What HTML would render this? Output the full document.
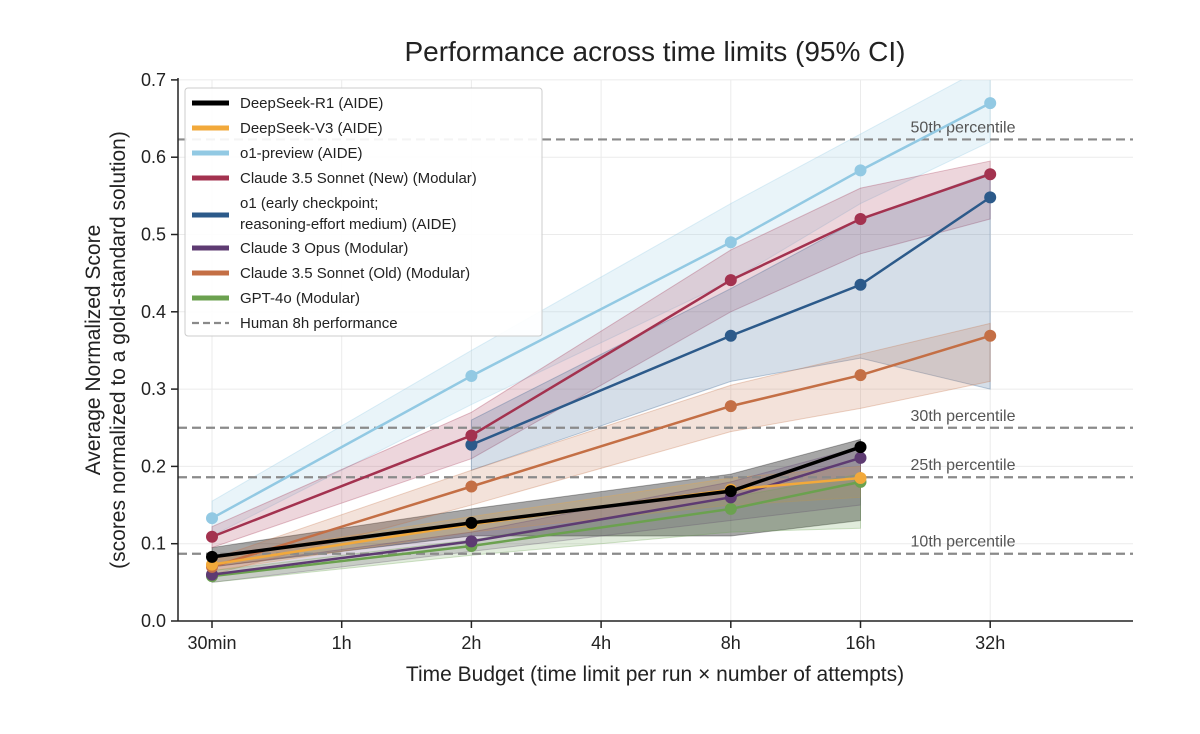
<!DOCTYPE html>
<html><head><meta charset="utf-8"><style>
body{margin:0;background:#fff;font-family:"Liberation Sans",sans-serif}
svg text{font-family:"Liberation Sans",sans-serif}
</style></head><body>
<svg id="chart" width="1200" height="729">
<text x="655" y="61" text-anchor="middle" font-size="28" fill="#222">Performance across time limits (95% CI)</text>
<g id="grid"></g><g id="bands"></g><g id="hlines"></g><g id="lines"></g><g id="axes"></g>
<text x="655" y="681" text-anchor="middle" font-size="21" fill="#222">Time Budget (time limit per run × number of attempts)</text>
<g transform="translate(100,350) rotate(-90)">
<text x="0" y="0" text-anchor="middle" font-size="21" fill="#222">Average Normalized Score</text>
<text x="0" y="25" text-anchor="middle" font-size="21" fill="#222">(scores normalized to a gold-standard solution)</text>
</g>
<g id="legend"></g>
</svg>
<script>
const xLabels=["30min","1h","2h","4h","8h","16h","32h"];
const yTicks=[0,0.1,0.2,0.3,0.4,0.5,0.6,0.7];
const humanLevels=[0.623,0.25,0.186,0.087];
const humanLabels=["50th percentile","30th percentile","25th percentile","10th percentile"];
const names=["DeepSeek-R1 (AIDE)","DeepSeek-V3 (AIDE)","o1-preview (AIDE)","Claude 3.5 Sonnet (New) (Modular)","o1 (early checkpoint;|reasoning-effort medium) (AIDE)","Claude 3 Opus (Modular)","Claude 3.5 Sonnet (Old) (Modular)","GPT-4o (Modular)"];
const colors=["#000000","#f2a93b","#92c9e3","#a3324f","#2c5a8a","#5e3b72","#c46f45","#6ba14f"];
const xIdx=[[0,2,4,5],[0,2,4,5],[0,2,4,5,6],[0,2,4,5,6],[2,4,5,6],[0,2,4,5],[0,2,4,5,6],[0,2,4,5]];
const vals=[[0.083,0.127,0.168,0.225],[0.073,0.125,0.17,0.185],[0.133,0.317,0.49,0.583,0.67],[0.109,0.24,0.441,0.52,0.578],[0.228,0.369,0.435,0.548],[0.06,0.103,0.16,0.211],[0.07,0.174,0.278,0.318,0.369],[0.058,0.097,0.145,0.18]];
const lows=[[0.07,0.11,0.11,0.13],[0.065,0.115,0.15,0.16],[0.11,0.28,0.44,0.54,0.62],[0.095,0.21,0.4,0.475,0.52],[0.195,0.31,0.34,0.3],[0.05,0.09,0.13,0.15],[0.06,0.15,0.245,0.275,0.31],[0.05,0.085,0.115,0.12]];
const highs=[[0.095,0.145,0.19,0.235],[0.082,0.135,0.185,0.2],[0.155,0.35,0.54,0.63,0.72],[0.122,0.27,0.48,0.56,0.595],[0.26,0.43,0.52,0.58],[0.07,0.115,0.18,0.225],[0.08,0.195,0.305,0.345,0.385],[0.065,0.105,0.16,0.19]];
const NS="http://www.w3.org/2000/svg";
const X=i=>212+i*129.7, Y=v=>621-v*773;
function mk(t,a,p){const e=document.createElementNS(NS,t);for(const k in a)e.setAttribute(k,a[k]);p.appendChild(e);return e;}
const grid=document.getElementById('grid'),axes=document.getElementById('axes');
xLabels.forEach((l,i)=>{
 const g=mk('line',{x1:X(i),x2:X(i),y1:80,y2:621,stroke:'#ebebeb'},grid);
 
 mk('line',{x1:X(i),x2:X(i),y1:621,y2:628,stroke:'#222','stroke-width':1.5},axes);
 const t=mk('text',{x:X(i),y:649,'text-anchor':'middle','font-size':18,fill:'#222'},axes);t.textContent=l;
 
});
yTicks.forEach(v=>{
 const g=mk('line',{x1:178,x2:1133,y1:Y(v),y2:Y(v),stroke:'#ebebeb'},grid);
 
 mk('line',{x1:171,x2:178,y1:Y(v),y2:Y(v),stroke:'#222','stroke-width':1.5},axes);
 const t=mk('text',{x:166,y:Y(v)+6,'text-anchor':'end','font-size':18,fill:'#222'},axes);t.textContent=v.toFixed(1);
 
});
mk('line',{x1:178,x2:178,y1:78,y2:621,stroke:'#222','stroke-width':1.5},axes);
mk('line',{x1:178,x2:1133,y1:621,y2:621,stroke:'#222','stroke-width':1.5},axes);
const hl=document.getElementById('hlines');
humanLevels.forEach((v,i)=>{
 const l=mk('line',{x1:178,x2:1133,y1:Y(v),y2:Y(v),stroke:'#8a8a8a','stroke-width':2.2,'stroke-dasharray':'9,5'},hl);
 
 const t=mk('text',{x:963,y:Y(v)-7,'text-anchor':'middle','font-size':16,fill:'#555'},hl);t.textContent=humanLabels[i];
 
});
const bands=document.getElementById('bands'),lines=document.getElementById('lines');
const clip=mk('clipPath',{id:'pc'},mk('defs',{},document.getElementById('chart')));mk('rect',{x:178,y:80,width:955,height:541},clip);
bands.setAttribute('clip-path','url(#pc)');
names.forEach((n,s)=>{
 const up=xIdx[s].map((x,j)=>X(x)+','+Y(highs[s][j]));
 const dn=xIdx[s].map((x,j)=>X(x)+','+Y(lows[s][j])).reverse();
 const b=mk('polygon',{points:up.concat(dn).join(' '),fill:colors[s],'fill-opacity':s==0?0.35:0.2,stroke:colors[s],'stroke-opacity':0.3},bands);
 
});
[7,5,6,1,4,3,2,0].forEach(s=>{
 const pts=xIdx[s].map((x,j)=>X(x)+','+Y(vals[s][j])).join(' ');
 const l=mk('polyline',{points:pts,fill:'none',stroke:colors[s],'stroke-width':s==0?3.5:2.5},lines);
 
 xIdx[s].forEach((x,j)=>{
  const c=mk('circle',{cx:X(x),cy:Y(vals[s][j]),r:6,fill:colors[s]},lines);
  
 });
});
const lg=document.getElementById('legend');
const box=mk('rect',{x:185,y:88,width:357,height:248,rx:3,fill:'#fff','fill-opacity':0.9,stroke:'#ccc'},lg);

let y=103;
names.forEach((n,s)=>{
 const parts=n.split('|');
 const sy=parts.length>1?y+12:y;
 mk('line',{x1:192,x2:229,y1:sy,y2:sy,stroke:colors[s],'stroke-width':5},lg);
 parts.forEach((p,k)=>{const t=mk('text',{x:240,y:y+5+k*21,'font-size':15,fill:'#222'},lg);t.textContent=p;
  });
 y+=parts.length*21+(parts.length>1?3:4);
});
mk('line',{x1:192,x2:229,y1:y,y2:y,stroke:'#8a8a8a','stroke-width':2.2,'stroke-dasharray':'7,4'},lg);
const ht=mk('text',{x:240,y:y+5,'font-size':15,fill:'#222'},lg);ht.textContent='Human 8h performance';

</script>
</body></html>
